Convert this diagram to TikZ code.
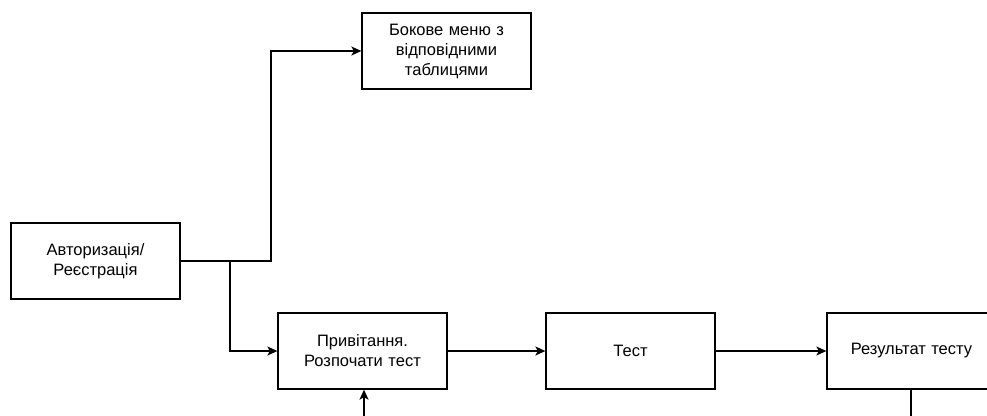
\documentclass[tikz,border=0pt]{standalone}
\usepackage{fontspec}
\setmainfont{Liberation Sans}
\usetikzlibrary{arrows.meta}
\begin{document}
\begin{tikzpicture}[x=1pt,y=-1pt,
  box/.style={draw, line width=1.3pt, minimum width=169pt, minimum height=76pt, align=center, inner sep=2pt,
    font=\fontsize{16.5}{20}\selectfont, text width=160pt},
  conn/.style={line width=1.3pt},
  arr/.style={conn, -{Stealth[length=10pt,width=9pt,inset=2.5pt]}}]
\useasboundingbox (0,0) rectangle (987,415);
\clip (0,0) rectangle (987,415);
\node[box] (auth) at (95.5,261) {Авторизація/\\Реєстрація};
\node[box] (menu) at (446.5,51) {Бокове меню з\\відповідними\\таблицями};
\node[box] (greet) at (362.5,351) {Привітання.\\Розпочати тест};
\node[box] (test) at (630.5,351) {Тест};
\node[box] (res) at (911.5,351) {Результат тесту};
\coordinate (split) at (230,261);
\coordinate (bin) at (364,420);
\coordinate (bout) at (911,420);
\draw[arr] (auth.east) -- (271,261) |- (menu.west);
\draw[arr] (split) |- (greet.west);
\draw[arr] (greet) -- (test);
\draw[arr] (test) -- (res);
\draw[arr] (bin) -- (bin |- greet.south);
\draw[conn] (bout |- res.south) -- (bout);
\end{tikzpicture}
\end{document}
